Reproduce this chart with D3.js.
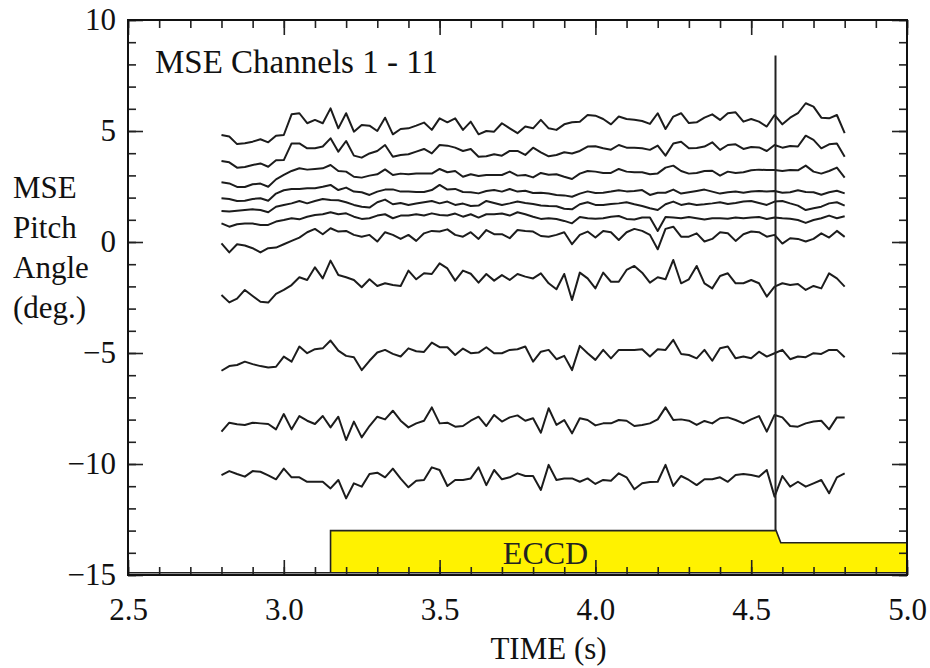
<!DOCTYPE html>
<html>
<head>
<meta charset="utf-8">
<script src="https://cdn.jsdelivr.net/npm/d3@7"></script>
<style>
  body { margin: 0; background: #fff; }
  svg { display: block; }
</style>
</head>
<body>
<script>
// MSE pitch angle, channels 1 - 11, sampled every 25 ms from t = 2.8 s
const tStart = 2.8
const tStep = 0.025

const ch1 = [4.82, 4.75, 4.41, 4.45, 4.52, 4.63, 4.49, 4.79, 4.82, 5.75, 5.80, 5.35, 5.50, 5.35, 6.02, 5.12, 5.80, 4.97, 5.27, 5.24, 5.00, 5.60, 4.85, 5.09, 5.12, 5.24, 5.38, 5.05, 5.57, 5.39, 5.57, 5.05, 5.42, 4.85, 5.00, 4.97, 5.35, 5.12, 4.90, 5.20,
  5.12, 5.50, 5.12, 5.05, 5.30, 5.39, 5.42, 5.72, 5.69, 5.54, 5.30, 5.65, 5.54, 5.51, 5.45, 5.32, 5.80, 5.09, 5.65, 5.80, 5.36, 5.39, 5.60, 5.75, 5.50, 5.80, 5.84, 5.42, 5.54, 5.42, 5.20, 5.72, 5.30, 5.60, 5.80, 6.25, 6.10, 5.60, 5.57, 5.72, 4.90]
const ch2 = [3.65, 3.59, 3.35, 3.38, 3.47, 3.54, 3.39, 3.68, 3.69, 4.44, 4.44, 4.22, 4.22, 4.30, 4.67, 4.07, 4.55, 3.89, 3.80, 3.99, 4.10, 4.37, 3.84, 3.92, 3.95, 4.07, 4.19, 3.99, 4.37, 4.34, 4.25, 4.10, 4.19, 3.84, 3.86, 3.95, 3.89, 4.10, 4.10, 3.92,
  4.25, 4.04, 3.86, 3.92, 4.04, 3.99, 4.10, 4.30, 4.31, 4.22, 4.16, 4.37, 4.25, 4.25, 4.22, 4.15, 4.34, 3.89, 4.44, 4.52, 4.22, 4.23, 4.30, 4.49, 4.15, 4.37, 4.40, 4.19, 4.28, 4.26, 4.10, 4.37, 4.25, 4.32, 4.30, 4.79, 4.60, 4.22, 4.40, 4.44, 3.84]
const ch3 = [2.69, 2.64, 2.48, 2.48, 2.60, 2.63, 2.49, 2.82, 3.02, 3.20, 3.32, 3.26, 3.29, 3.32, 3.47, 3.20, 3.17, 2.94, 2.90, 2.99, 3.05, 3.27, 3.02, 3.08, 3.05, 3.09, 3.09, 3.08, 3.29, 3.14, 3.20, 2.94, 3.05, 2.97, 3.02, 3.02, 3.02, 3.17, 2.99, 3.02,
  2.91, 3.11, 3.03, 3.05, 2.94, 2.84, 3.08, 3.20, 3.17, 3.11, 3.11, 3.29, 3.17, 3.14, 3.14, 3.05, 3.09, 3.35, 3.44, 3.20, 3.08, 3.11, 3.20, 3.21, 2.99, 3.17, 3.11, 3.14, 3.23, 3.26, 3.24, 3.24, 3.20, 3.24, 3.23, 3.44, 3.17, 3.08, 3.20, 3.35, 2.90]
const ch4 = [1.97, 1.94, 1.85, 1.86, 1.94, 1.97, 1.86, 2.18, 2.33, 2.39, 2.39, 2.42, 2.42, 2.49, 2.57, 2.34, 2.45, 2.27, 2.24, 2.12, 2.27, 2.36, 2.37, 2.27, 2.27, 2.25, 2.25, 2.34, 2.57, 2.36, 2.39, 2.25, 2.24, 2.19, 2.30, 2.34, 2.27, 2.39, 2.27, 2.31,
  2.21, 2.22, 2.18, 2.12, 2.10, 2.04, 2.18, 2.28, 2.21, 2.22, 2.27, 2.33, 2.28, 2.30, 2.34, 2.12, 2.22, 2.22, 2.36, 2.18, 2.24, 2.30, 2.36, 2.27, 2.18, 2.24, 2.27, 2.22, 2.27, 2.30, 2.27, 2.30, 2.22, 2.24, 2.33, 2.25, 2.24, 2.13, 2.24, 2.31, 2.19]
const ch5 = [1.40, 1.37, 1.41, 1.44, 1.47, 1.44, 1.34, 1.59, 1.67, 1.74, 1.85, 1.74, 1.85, 1.94, 1.89, 1.88, 1.79, 1.67, 1.59, 1.55, 1.79, 1.91, 1.70, 1.76, 1.67, 1.73, 1.79, 1.85, 1.74, 1.82, 1.67, 1.73, 1.62, 1.64, 1.85, 1.76, 1.67, 1.74, 1.82, 1.76,
  1.71, 1.64, 1.62, 1.61, 1.50, 1.47, 1.70, 1.79, 1.67, 1.67, 1.71, 1.74, 1.79, 1.70, 1.62, 1.52, 1.44, 1.70, 1.82, 1.67, 1.73, 1.67, 1.70, 1.74, 1.79, 1.71, 1.76, 1.82, 1.85, 1.76, 1.67, 1.82, 1.85, 1.74, 1.64, 1.44, 1.52, 1.59, 1.74, 1.79, 1.64]
const ch6 = [0.84, 0.69, 0.80, 0.83, 0.83, 0.77, 0.77, 0.92, 0.99, 1.07, 1.02, 1.14, 1.22, 1.25, 1.34, 1.25, 1.29, 1.14, 1.04, 1.07, 1.19, 1.25, 1.07, 1.19, 1.19, 1.25, 1.19, 1.29, 1.22, 1.19, 1.28, 1.14, 1.25, 1.10, 1.25, 1.25, 1.28, 1.19, 1.34, 1.25,
  1.14, 1.04, 1.07, 1.04, 0.95, 0.84, 1.13, 1.07, 1.05, 1.07, 1.14, 1.17, 1.04, 1.01, 1.10, 1.10, 0.50, 1.13, 1.10, 1.07, 1.13, 1.07, 1.01, 1.07, 1.07, 1.05, 1.10, 1.07, 1.10, 1.13, 1.04, 1.10, 1.07, 1.05, 0.99, 0.86, 0.99, 1.07, 1.19, 1.07, 1.16]
const ch7 = [-0.06, -0.47, -0.10, -0.16, -0.28, -0.47, -0.28, -0.25, -0.10, 0.05, 0.20, 0.44, 0.59, 0.35, 0.62, 0.47, 0.50, 0.32, 0.24, 0.32, 0.02, 0.44, 0.32, 0.14, 0.32, 0.05, 0.39, 0.50, 0.47, 0.57, 0.32, 0.24, 0.44, 0.14, 0.54, 0.35, 0.35, 0.17, 0.54, 0.50,
  0.47, 0.27, 0.24, 0.32, 0.44, -0.10, 0.32, 0.47, 0.20, 0.50, 0.44, 0.09, 0.44, 0.59, 0.50, 0.32, -0.33, 0.59, 0.69, 0.24, 0.24, 0.39, 0.02, 0.14, 0.44, 0.39, 0.05, 0.35, 0.47, 0.44, 0.24, 0.32, -0.07, 0.17, 0.14, 0.02, 0.14, 0.39, 0.20, 0.50, 0.23]
const ch8 = [-2.39, -2.72, -2.55, -2.16, -2.43, -2.69, -2.73, -2.34, -2.16, -1.94, -1.59, -1.71, -1.14, -1.64, -0.84, -1.49, -1.59, -1.71, -2.04, -1.68, -1.98, -1.86, -1.94, -1.98, -1.29, -1.68, -1.41, -1.44, -0.96, -1.19, -1.74, -1.29, -1.43, -1.83, -1.44, -1.74, -1.49, -1.71, -1.44, -1.56,
  -1.64, -1.41, -1.86, -2.13, -1.44, -2.61, -1.38, -1.64, -2.09, -1.38, -1.79, -1.79, -1.26, -1.08, -1.38, -1.83, -1.59, -1.68, -0.81, -1.86, -1.68, -1.08, -1.86, -2.09, -1.53, -1.41, -1.86, -1.86, -1.71, -1.86, -2.46, -2.01, -1.86, -1.94, -1.89, -2.16, -1.98, -2.09, -1.41, -1.64, -2.01]
const ch9 = [-5.80, -5.59, -5.54, -5.39, -5.50, -5.59, -5.65, -5.62, -5.16, -5.39, -4.71, -5.01, -4.83, -4.79, -4.44, -4.89, -5.13, -5.19, -5.77, -5.35, -4.98, -4.86, -5.04, -5.16, -4.79, -4.92, -4.95, -4.53, -4.74, -4.74, -5.09, -4.80, -5.01, -4.98, -4.74, -5.01, -5.01, -4.86, -4.83, -4.71,
  -5.39, -4.94, -4.86, -5.28, -5.13, -5.77, -4.68, -5.01, -5.31, -4.86, -5.24, -4.86, -4.86, -4.86, -4.83, -5.16, -4.83, -4.86, -4.41, -5.04, -5.09, -5.24, -4.86, -5.35, -4.79, -4.71, -5.24, -5.16, -5.24, -4.94, -5.16, -5.01, -4.86, -5.28, -5.16, -5.19, -5.01, -5.04, -4.86, -4.86, -5.19]
const ch10 = [-8.54, -8.14, -8.21, -8.24, -8.14, -8.17, -8.20, -8.44, -7.75, -8.44, -7.84, -8.05, -8.20, -7.84, -8.35, -7.87, -8.92, -8.09, -8.80, -8.29, -7.87, -7.99, -7.60, -8.05, -8.35, -8.17, -8.05, -7.45, -8.17, -8.14, -8.32, -8.29, -8.05, -7.87, -8.29, -7.79, -8.09, -7.90, -7.81, -8.05,
  -7.94, -8.59, -7.49, -8.24, -8.02, -8.62, -7.94, -8.02, -8.26, -8.17, -8.17, -8.02, -8.05, -8.29, -8.24, -8.17, -7.99, -7.45, -8.02, -7.99, -8.05, -8.24, -8.06, -8.17, -7.94, -7.90, -8.02, -8.17, -7.99, -7.84, -8.54, -7.79, -7.90, -8.29, -8.32, -8.17, -8.09, -8.05, -8.44, -7.90, -7.90]
const ch11 = [-10.50, -10.32, -10.45, -10.57, -10.32, -10.35, -10.51, -10.69, -10.21, -10.60, -10.60, -10.80, -10.80, -10.80, -11.10, -10.72, -11.55, -10.87, -11.02, -10.45, -10.39, -10.60, -10.21, -10.66, -11.05, -10.75, -10.72, -10.15, -10.27, -10.99, -10.72, -10.72, -10.65, -10.15, -10.95, -10.27, -10.69, -10.60, -10.42, -10.54,
  -10.54, -11.17, -10.04, -10.72, -10.65, -10.65, -10.80, -10.65, -10.90, -10.72, -10.75, -10.42, -10.60, -11.14, -10.87, -10.81, -10.80, -10.04, -10.99, -10.54, -10.72, -10.95, -10.69, -10.69, -10.60, -10.80, -10.50, -10.45, -10.50, -10.57, -10.27, -11.47, -10.54, -11.02, -10.80, -11.02, -10.87, -10.72, -11.32, -10.60, -10.42]

const channels = [ch1, ch2, ch3, ch4, ch5, ch6, ch7, ch8, ch9, ch10, ch11]

// ECCD power trace (drawn in degree units at the bottom of the plot)
const eccdTimes = [2.5, 3.15, 3.15, 4.58, 4.595, 5.0, 5.0]
const eccdLevels = [-14.9, -14.9, -13.0, -13.0, -13.55, -13.55, -14.9]

// vertical marker
const markerTime = 4.578
const markerRange = [8.4, -13.0]

// ticks
const xMajor = [2.5, 3.0, 3.5, 4.0, 4.5, 5.0]
const xMinor = d3.range(25, 51).map(d => d / 10)
const yMajor = [-15, -10, -5, 0, 5, 10]
const yMinor = d3.range(-15, 11)

const width = 930
const height = 668
const margin = ({top: 20, right: 23, bottom: 93, left: 128})
const font = "'Liberation Serif', 'Times New Roman', serif"

const x = d3.scaleLinear().domain([2.5, 5.0]).range([margin.left, width - margin.right])
const y = d3.scaleLinear().domain([-15, 10]).range([height - margin.bottom, margin.top])

const svg = d3.select("body").append("svg")
    .attr("width", width)
    .attr("height", height)
    .attr("font-family", font)

// ECCD box
const eccd = eccdTimes.map((t, i) => [x(t), y(eccdLevels[i])])
svg.append("path")
    .attr("d", d3.line()(eccd) + "Z")
    .attr("fill", "#fff200")
    .attr("stroke", "#222")
    .attr("stroke-width", 1.6)

svg.append("text")
    .attr("x", x(3.84))
    .attr("y", y(-14.0) + 11)
    .attr("text-anchor", "middle")
    .attr("font-size", 32)
    .attr("fill", "#222")
    .text("ECCD")

// channel traces
const line = d3.line()
    .x((d, i) => x(tStart + i * tStep))
    .y(d => y(d))

svg.append("g")
  .selectAll("path")
  .data(channels)
  .join("path")
    .attr("d", line)
    .attr("fill", "none")
    .attr("stroke", "#1c1c1c")
    .attr("stroke-width", 2)
    .attr("stroke-linejoin", "round")

svg.append("line")
    .attr("x1", x(markerTime)).attr("x2", x(markerTime))
    .attr("y1", y(markerRange[0])).attr("y2", y(markerRange[1]))
    .attr("stroke", "#222")
    .attr("stroke-width", 2)

// axes, ticks inside on all four sides
const minus = d => d < 0 ? "\u2212" + Math.abs(d) : String(d)

function addAxis(axis, transform){
    const g = svg.append("g")
        .attr("transform", transform)
        .call(axis)
    g.select(".domain").remove()
    g.selectAll(".tick line").attr("stroke", "#222").attr("stroke-width", 1.6)
    g.selectAll("text").attr("font-family", font).attr("fill", "#111")
    return g
}

const bottomY = height - margin.bottom
const rightX = width - margin.right

addAxis(d3.axisBottom(x).tickValues(xMinor).tickSize(-8).tickFormat(""), `translate(0,${bottomY})`)
addAxis(d3.axisBottom(x).tickValues(xMajor).tickSize(-15).tickPadding(45).tickFormat(d3.format(".1f")), `translate(0,${bottomY})`)
    .selectAll("text").attr("font-size", 31).attr("dy", "0")
addAxis(d3.axisTop(x).tickValues(xMinor).tickSize(-8).tickFormat(""), `translate(0,${margin.top})`)
addAxis(d3.axisTop(x).tickValues(xMajor).tickSize(-15).tickFormat(""), `translate(0,${margin.top})`)

addAxis(d3.axisLeft(y).tickValues(yMinor).tickSize(-8).tickFormat(""), `translate(${margin.left},0)`)
addAxis(d3.axisLeft(y).tickValues(yMajor).tickSize(-15).tickPadding(12).tickFormat(minus), `translate(${margin.left},0)`)
    .selectAll("text").attr("font-size", 31)
addAxis(d3.axisRight(y).tickValues(yMinor).tickSize(-8).tickFormat(""), `translate(${rightX},0)`)
addAxis(d3.axisRight(y).tickValues(yMajor).tickSize(-15).tickFormat(""), `translate(${rightX},0)`)

svg.append("rect")
    .attr("x", margin.left)
    .attr("y", margin.top)
    .attr("width", rightX - margin.left)
    .attr("height", bottomY - margin.top)
    .attr("fill", "none")
    .attr("stroke", "#111")
    .attr("stroke-width", 2)

// labels
svg.append("text")
    .attr("x", 155)
    .attr("y", 73)
    .attr("font-size", 33)
    .attr("fill", "#111")
    .text("MSE Channels 1 - 11")

svg.append("text")
    .attr("x", (margin.left + rightX) / 2 + 31)
    .attr("y", 659)
    .attr("text-anchor", "middle")
    .attr("font-size", 31)
    .attr("fill", "#111")
    .text("TIME (s)")

const yLabel = ["MSE", "Pitch", "Angle", "(deg.)"]
svg.append("text")
    .attr("font-size", 31)
    .attr("fill", "#111")
  .selectAll("tspan")
  .data(yLabel)
  .join("tspan")
    .attr("x", 13)
    .attr("y", (d, i) => 198 + i * 40)
    .text(d => d)
</script>
</body>
</html>
